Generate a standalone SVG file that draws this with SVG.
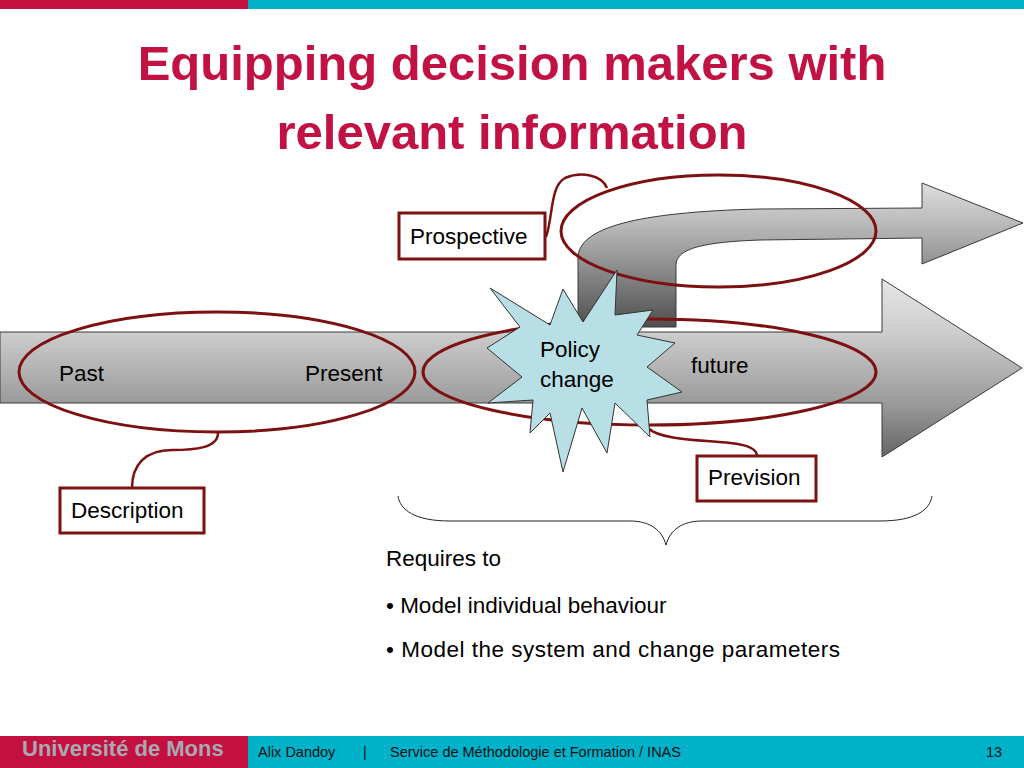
<svg xmlns="http://www.w3.org/2000/svg" width="1024" height="768" viewBox="0 0 1024 768">
<defs>
<linearGradient id="gMain" gradientUnits="userSpaceOnUse" x1="0" y1="279" x2="0" y2="457">
<stop offset="0" stop-color="#e6e6e6"/>
<stop offset="0.3" stop-color="#cdcdcd"/>
<stop offset="0.7" stop-color="#9a9a9a"/>
<stop offset="1" stop-color="#656565"/>
</linearGradient>
<linearGradient id="gBent" gradientUnits="userSpaceOnUse" x1="0" y1="183" x2="0" y2="328">
<stop offset="0" stop-color="#dedede"/>
<stop offset="0.35" stop-color="#b0b0b0"/>
<stop offset="1" stop-color="#4e4e4e"/>
</linearGradient>
<style>
.t{font-family:"Liberation Sans",Arial,sans-serif;font-size:22.5px;fill:#000}
.ell{fill:none;stroke:#7d1111;stroke-width:3}
.lbl{fill:#fff;stroke:#7d1111;stroke-width:3}
.cn{fill:none;stroke:#7d1111;stroke-width:2.5}
.arr{stroke:#3a3a3a;stroke-width:1}
.ft{font-family:"Liberation Sans",Arial,sans-serif;font-size:14.5px;fill:#111}
</style>
</defs>
<rect x="0" y="0" width="1024" height="768" fill="#fff"/>
<rect x="0" y="0" width="248" height="9" fill="#c4103f"/>
<rect x="248" y="0" width="776" height="9" fill="#00b2c9"/>
<g id="title">
<text x="512" y="80" text-anchor="middle" font-family="Liberation Sans,Arial,sans-serif" font-weight="bold" font-size="49" fill="#c21244">Equipping decision makers with</text>
<text x="512" y="149" text-anchor="middle" font-family="Liberation Sans,Arial,sans-serif" font-weight="bold" font-size="49" fill="#c21244">relevant information</text>
</g>
<g id="timeline-arrow">
<path class="arr" fill="url(#gMain)" d="M0,332 L882,332 L882,279 L1022,368 L882,457 L882,403 L0,403 Z"/>
</g>
<g id="prospective-arrow">
<path class="arr" fill="url(#gBent)" d="M578,327 L578,258 C578,228 635,212 760,209 L922,208 L922,183 L1023,223 L922,264 L922,238 L760,240 C705,242 676,248 676,265 L676,327 Z"/>
</g>
<g id="connectors">
<path class="cn" d="M218,433 C218,448 195,450 172,450 C145,450 132,465 132,488"/>
<path class="cn" d="M546,237 C553,218 550,186 565,178 C581,171 602,175 607,188"/>
<path class="cn" d="M648,428 C660,440 700,440 730,443 C750,445 757,450 757,456"/>
<path fill="none" stroke="#222" stroke-width="1" d="M398,496 C400,510 415,521 450,521 L630,521 C650,521 662,530 666,545 C670,530 682,521 702,521 L880,521 C915,521 930,510 932,496"/>
</g>
<g id="past-present">
<ellipse class="ell" cx="217" cy="372" rx="198" ry="60"/>
<text class="t" x="59" y="381">Past</text>
<text class="t" x="305" y="381">Present</text>
</g>
<g id="future">
<ellipse class="ell" cx="649.5" cy="372" rx="226.5" ry="53"/>
<text class="t" x="691" y="373">future</text>
</g>
<g id="prospective-ellipse">
<ellipse class="ell" cx="718.5" cy="231" rx="157.5" ry="56"/>
</g>
<g id="policy-change">
<polygon fill="#b8dfe6" stroke="#333" stroke-width="1" points="490,288 550,325 563,289 583,322 617,270 615,315 653,310 637,335 675,343 647,367 682,392 647,400 650,437 615,403 607,453 582,408 563,472 550,413 530,433 533,400 488,403 522,377 487,348 520,327"/>
<text class="t" x="540" y="357">Policy</text>
<text class="t" x="540" y="387">change</text>
</g>
<g id="description">
<rect class="lbl" x="60" y="488" width="144" height="45"/>
<text class="t" x="71" y="518">Description</text>
</g>
<g id="prospective">
<rect class="lbl" x="399" y="213" width="146" height="46"/>
<text class="t" x="410" y="244">Prospective</text>
</g>
<g id="prevision">
<rect class="lbl" x="697" y="456" width="119" height="45"/>
<text class="t" x="708" y="485">Prevision</text>
</g>
<g id="requirements">
<text class="t" x="386" y="566">Requires to</text>
<text class="t" x="386" y="613">• Model individual behaviour</text>
<text class="t" x="386" y="657" textLength="454">• Model the system and change parameters</text>
</g>
<g id="footer">
<rect x="0" y="736" width="248" height="32" fill="#c4103f"/>
<rect x="248" y="736" width="776" height="32" fill="#00b2c9"/>
<text x="22" y="756" font-family="Liberation Sans,Arial,sans-serif" font-weight="bold" font-size="22" fill="#a9a9b2">Université de Mons</text>
<text class="ft" x="258" y="757">Alix Dandoy</text>
<text class="ft" x="363" y="757">|</text>
<text class="ft" x="390" y="757">Service de Méthodologie et Formation / INAS</text>
<text class="ft" x="986" y="757">13</text>
</g>
</svg>
